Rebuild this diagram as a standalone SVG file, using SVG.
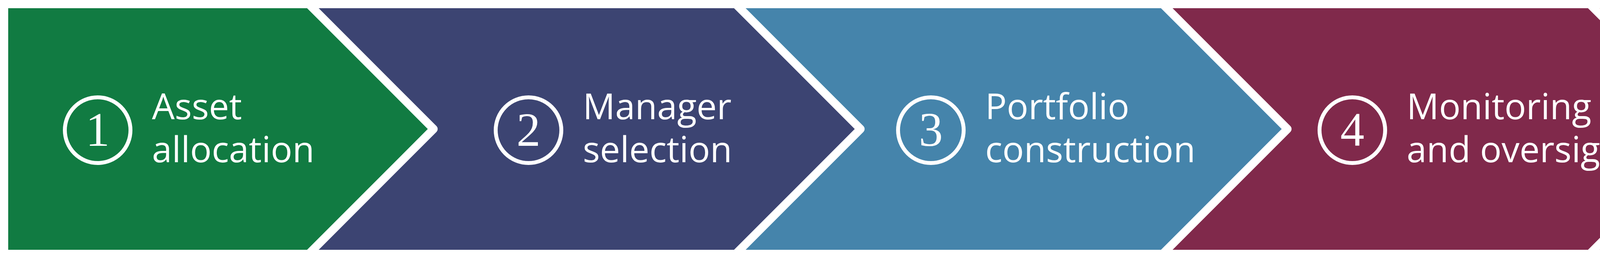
<svg xmlns="http://www.w3.org/2000/svg" width="5493" height="660" viewBox="0 0 5493 660">
<style>
.chev{stroke:#FFFFFF;stroke-width:21;stroke-linejoin:round}
.ring{fill:none;stroke:#FFFFFF;stroke-width:10}
.num{font-family:"Liberation Serif","DejaVu Serif",serif;font-size:123px;fill:#FFFFFF;text-anchor:middle}
.lbl{font-family:"Open Sans","Noto Sans",sans-serif;font-size:92px;fill:#FFFFFF}
</style>
<rect width="5493" height="660" fill="#FFFFFF"/>
<g id="step5">
<path class="chev" fill="#D57F63" d="M3979 10.5 L5162.5 10.5 L5482 330 L5162.5 649.5 L3979 649.5 Z"/>
<circle class="ring" cx="4572" cy="333" r="84"/>
<text class="num" x="4572" y="373">5</text>
<text class="lbl" x="4711" y="305">Portfolio</text>
<text class="lbl" x="4711" y="415">rebalancing</text>
</g>
<g id="step4">
<path class="chev" fill="#80294B" d="M2886 10.5 L4069.5 10.5 L4389 330 L4069.5 649.5 L2886 649.5 Z"/>
<circle class="ring" cx="3462" cy="333" r="84"/>
<text class="num" x="3462" y="373">4</text>
<text class="lbl" x="3601" y="305">Monitoring</text>
<text class="lbl" x="3601" y="415">and oversight</text>
</g>
<g id="step3">
<path class="chev" fill="#4584AB" d="M1793 10.5 L2976.5 10.5 L3296 330 L2976.5 649.5 L1793 649.5 Z"/>
<circle class="ring" cx="2383" cy="333" r="84"/>
<text class="num" x="2383" y="373">3</text>
<text class="lbl" x="2522" y="305">Portfolio</text>
<text class="lbl" x="2522" y="415">construction</text>
</g>
<g id="step2">
<path class="chev" fill="#3C4472" d="M700 10.5 L1883.5 10.5 L2203 330 L1883.5 649.5 L700 649.5 Z"/>
<circle class="ring" cx="1353" cy="333" r="84"/>
<text class="num" x="1353" y="373">2</text>
<text class="lbl" x="1492" y="305">Manager</text>
<text class="lbl" x="1492" y="415">selection</text>
</g>
<g id="step1">
<path class="chev" fill="#117B42" d="M10.5 10.5 L790.5 10.5 L1110 330 L790.5 649.5 L10.5 649.5 Z"/>
<circle class="ring" cx="250" cy="333" r="84"/>
<text class="num" x="250" y="373">1</text>
<text class="lbl" x="389" y="305">Asset</text>
<text class="lbl" x="389" y="415">allocation</text>
</g>
<g id="connectors"/>
</svg>
